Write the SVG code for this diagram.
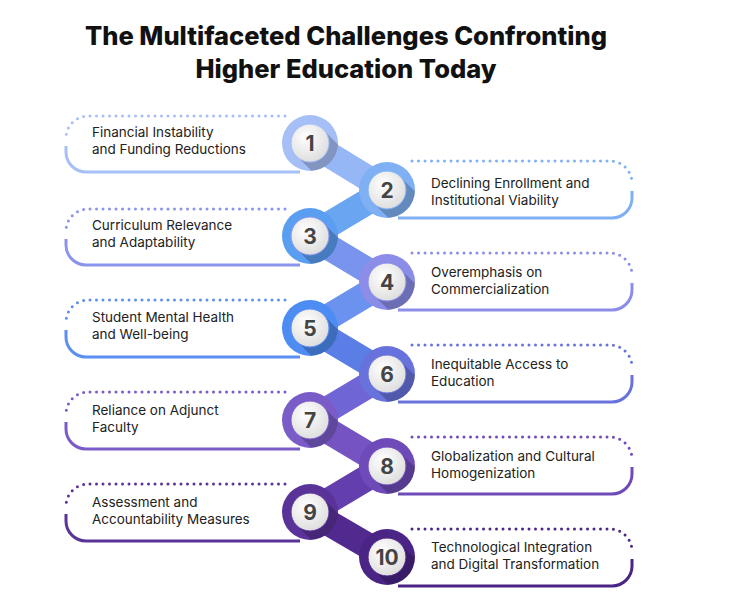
<svg xmlns="http://www.w3.org/2000/svg" width="750" height="609" viewBox="0 0 750 609">
<style>
.t{font-family:Inter,"Liberation Sans",sans-serif;font-size:13.5px;fill:#222}
.n{font-family:Inter,"Liberation Sans",sans-serif;font-size:21px;font-weight:700;fill:#444;text-anchor:middle}
.h{font-family:Inter,"Liberation Sans",sans-serif;font-size:25.5px;font-weight:800;fill:#111;text-anchor:middle}
.d{fill:none;stroke-width:3;stroke-linecap:round;stroke-dasharray:0 6.5}
.s{fill:none;stroke-width:3}
</style>
<defs>
<clipPath id="cp"><circle r="28"/></clipPath>
<radialGradient id="w" cx="0.4" cy="0.35" r="0.7"><stop offset="0" stop-color="#ffffff"/><stop offset="1" stop-color="#dcdcdc"/></radialGradient>
<g id="inner">
<path clip-path="url(#cp)" d="M-13.4,13.4 L13.4,-13.4 L43,16 L16,43 Z" fill="#000" opacity="0.22"/>
<circle r="19" fill="url(#w)"/>
</g>
</defs>
<text class="h" x="346" y="45">The Multifaceted Challenges Confronting</text>
<text class="h" x="346" y="78">Higher Education Today</text>
<g id="connectors" stroke-width="26" stroke-linecap="round">
<line x1="310" y1="143" x2="387" y2="190" stroke="#96b7f5"/>
<line x1="387" y1="190" x2="310" y2="236" stroke="#6aa5f2"/>
<line x1="310" y1="236" x2="387" y2="282" stroke="#7994ec"/>
<line x1="387" y1="282" x2="310" y2="328" stroke="#6a92ee"/>
<line x1="310" y1="328" x2="387" y2="374" stroke="#5a7ee6"/>
<line x1="387" y1="374" x2="310" y2="420" stroke="#7065d4"/>
<line x1="310" y1="420" x2="387" y2="466" stroke="#7554c2"/>
<line x1="387" y1="466" x2="310" y2="512" stroke="#633fae"/>
<line x1="310" y1="512" x2="387" y2="557" stroke="#52298f"/>
</g>
<g id="node1" stroke="#a6bff7"><path class="d" d="M285,116 H88 A22,22 0 0 0 66,138"/><path class="s" d="M66,146 V152 A20,20 0 0 0 86,172 H300"/><circle cx="310" cy="143" r="28" fill="#a6bff7" stroke="none"/><use href="#inner" x="310" y="143"/><text class="n" x="310" y="151" stroke="none">1</text><text class="t" stroke="none" x="92" y="137">Financial Instability</text><text class="t" stroke="none" x="92" y="154">and Funding Reductions</text></g>
<g id="node2" stroke="#7fb0f3"><path class="d" d="M412,161 H610 A22,22 0 0 1 632,183"/><path class="s" d="M632,191 V198 A20,20 0 0 1 612,218 H398"/><circle cx="387" cy="190" r="28" fill="#7fb0f3" stroke="none"/><use href="#inner" x="387" y="190"/><text class="n" x="387" y="198" stroke="none">2</text><text class="t" stroke="none" x="431" y="188">Declining Enrollment and</text><text class="t" stroke="none" x="431" y="205">Institutional Viability</text></g>
<g id="node3" stroke="#8a94ec"><path class="d" d="M285,209 H88 A22,22 0 0 0 66,231"/><path class="s" d="M66,239 V245 A20,20 0 0 0 86,265 H300"/><circle cx="310" cy="236" r="28" fill="#5a9ef2" stroke="none"/><use href="#inner" x="310" y="236"/><text class="n" x="310" y="244" stroke="none">3</text><text class="t" stroke="none" x="92" y="230">Curriculum Relevance</text><text class="t" stroke="none" x="92" y="247">and Adaptability</text></g>
<g id="node4" stroke="#8b8de8"><path class="d" d="M412,253 H610 A22,22 0 0 1 632,275"/><path class="s" d="M632,283 V290 A20,20 0 0 1 612,310 H398"/><circle cx="387" cy="282" r="28" fill="#8b8de8" stroke="none"/><use href="#inner" x="387" y="282"/><text class="n" x="387" y="290" stroke="none">4</text><text class="t" stroke="none" x="431" y="277">Overemphasis on</text><text class="t" stroke="none" x="431" y="294">Commercialization</text></g>
<g id="node5" stroke="#5b8ff0"><path class="d" d="M285,300 H88 A22,22 0 0 0 66,322"/><path class="s" d="M66,330 V337 A20,20 0 0 0 86,357 H300"/><circle cx="310" cy="328" r="28" fill="#4d8cf2" stroke="none"/><use href="#inner" x="310" y="328"/><text class="n" x="310" y="336" stroke="none">5</text><text class="t" stroke="none" x="92" y="322">Student Mental Health</text><text class="t" stroke="none" x="92" y="339">and Well-being</text></g>
<g id="node6" stroke="#6872dc"><path class="d" d="M412,345 H610 A22,22 0 0 1 632,367"/><path class="s" d="M632,375 V382 A20,20 0 0 1 612,402 H398"/><circle cx="387" cy="374" r="28" fill="#6872dc" stroke="none"/><use href="#inner" x="387" y="374"/><text class="n" x="387" y="382" stroke="none">6</text><text class="t" stroke="none" x="431" y="369">Inequitable Access to</text><text class="t" stroke="none" x="431" y="386">Education</text></g>
<g id="node7" stroke="#7a5cc8"><path class="d" d="M285,392 H88 A22,22 0 0 0 66,414"/><path class="s" d="M66,422 V429 A20,20 0 0 0 86,449 H300"/><circle cx="310" cy="420" r="28" fill="#7a5cc8" stroke="none"/><use href="#inner" x="310" y="420"/><text class="n" x="310" y="428" stroke="none">7</text><text class="t" stroke="none" x="92" y="415">Reliance on Adjunct</text><text class="t" stroke="none" x="92" y="432">Faculty</text></g>
<g id="node8" stroke="#6e4bb8"><path class="d" d="M412,437 H610 A22,22 0 0 1 632,459"/><path class="s" d="M632,467 V474 A20,20 0 0 1 612,494 H398"/><circle cx="387" cy="466" r="28" fill="#6e4bb8" stroke="none"/><use href="#inner" x="387" y="466"/><text class="n" x="387" y="474" stroke="none">8</text><text class="t" stroke="none" x="431" y="461">Globalization and Cultural</text><text class="t" stroke="none" x="431" y="478">Homogenization</text></g>
<g id="node9" stroke="#5a3399"><path class="d" d="M285,484 H88 A22,22 0 0 0 66,506"/><path class="s" d="M66,514 V521 A20,20 0 0 0 86,541 H300"/><circle cx="310" cy="512" r="28" fill="#5a3399" stroke="none"/><use href="#inner" x="310" y="512"/><text class="n" x="310" y="520" stroke="none">9</text><text class="t" stroke="none" x="92" y="507">Assessment and</text><text class="t" stroke="none" x="92" y="524">Accountability Measures</text></g>
<g id="node10" stroke="#4a2585"><path class="d" d="M412,529 H610 A22,22 0 0 1 632,551"/><path class="s" d="M632,559 V566 A20,20 0 0 1 612,586 H398"/><circle cx="387" cy="557" r="28" fill="#4a2585" stroke="none"/><use href="#inner" x="387" y="557"/><text class="n" x="387" y="565" stroke="none">10</text><text class="t" stroke="none" x="431" y="552">Technological Integration</text><text class="t" stroke="none" x="431" y="569">and Digital Transformation</text></g>
</svg>
